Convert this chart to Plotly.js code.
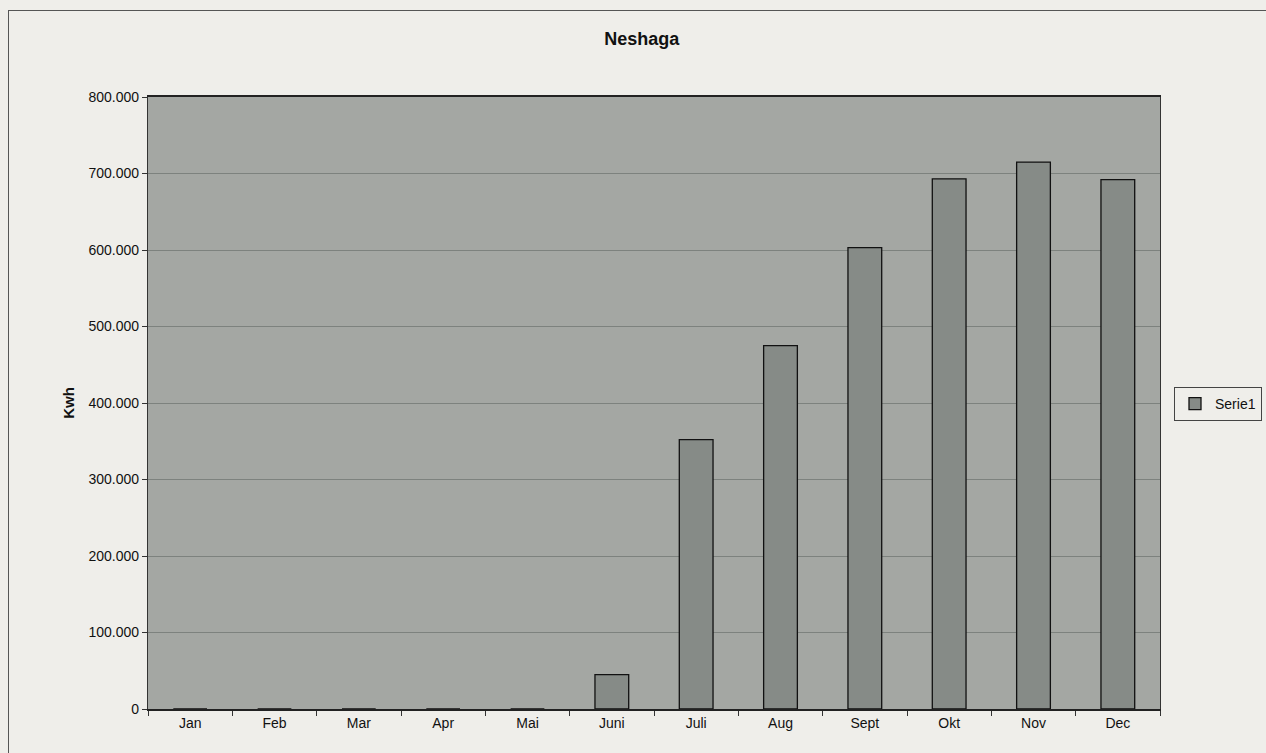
<!DOCTYPE html>
<html>
<head>
<meta charset="utf-8">
<script src="https://cdn.plot.ly/plotly-3.0.1.min.js"></script>
<style>
html,body{margin:0;padding:0;background:#efeeea;}
#frame{position:absolute;left:8px;top:10px;width:1270px;height:760px;border:1.5px solid #555;box-sizing:border-box;pointer-events:none;z-index:5;}
#chart{width:1266px;height:753px;}
</style>
</head>
<body>
<div id="frame"></div>
<div id="chart"></div>
<script>
const months = ["Jan","Feb","Mar","Apr","Mai","Juni","Juli","Aug","Sept","Okt","Nov","Dec"];
const serie1 = [0,0,0,0,0,45000,352000,475000,603000,693000,715000,692000];
const yTicks = [0,100000,200000,300000,400000,500000,600000,700000,800000];

const trace = {
  type: "bar",
  x: months,
  y: serie1,
  name: "Serie1",
  marker: {color: "#868b87", line: {color: "#111", width: 1.3}},
  hoverinfo: "x+y"
};

const layout = {
  width: 1266, height: 753,
  paper_bgcolor: "rgba(0,0,0,0)",
  plot_bgcolor: "#a4a7a3",
  separators: ",.",
  margin: {l: 148, r: 106, t: 97, b: 44},
  bargap: 0.6,
  font: {family: "Liberation Sans, Arial, sans-serif", size: 14, color: "#111"},
  title: {
    text: "<b>Neshaga</b>",
    font: {size: 18, color: "#111"},
    x: 0.507, xref: "container", xanchor: "center",
    y: 1 - 39/753, yref: "container", yanchor: "middle"
  },
  xaxis: {
    type: "category",
    tickson: "boundaries",
    ticks: "outside", ticklen: 5, tickcolor: "#333",
    showline: true, linecolor: "#222", linewidth: 2, mirror: true,
    showgrid: false,
    layer: "above traces",
    tickfont: {size: 14}
  },
  yaxis: {
    range: [0, 800000],
    tickvals: yTicks,
    tickformat: ",d",
    ticks: "outside", ticklen: 5, tickcolor: "#333",
    showline: true, linecolor: "#333", linewidth: 1.2, mirror: true,
    gridcolor: "#7d827e", gridwidth: 1,
    zeroline: false,
    title: {text: "<b>Kwh</b>", font: {size: 15}, standoff: 10},
    tickfont: {size: 14}
  },
  showlegend: true,
  legend: {
    xref: "container", yref: "container",
    x: 1174/1266, xanchor: "left",
    y: 1 - 404/753, yanchor: "middle",
    bgcolor: "rgba(0,0,0,0)",
    bordercolor: "#444", borderwidth: 1,
    font: {size: 14},
    itemwidth: 30
  }
};

Plotly.newPlot("chart", [trace], layout, {displayModeBar: false, staticPlot: true});
</script>
</body>
</html>
